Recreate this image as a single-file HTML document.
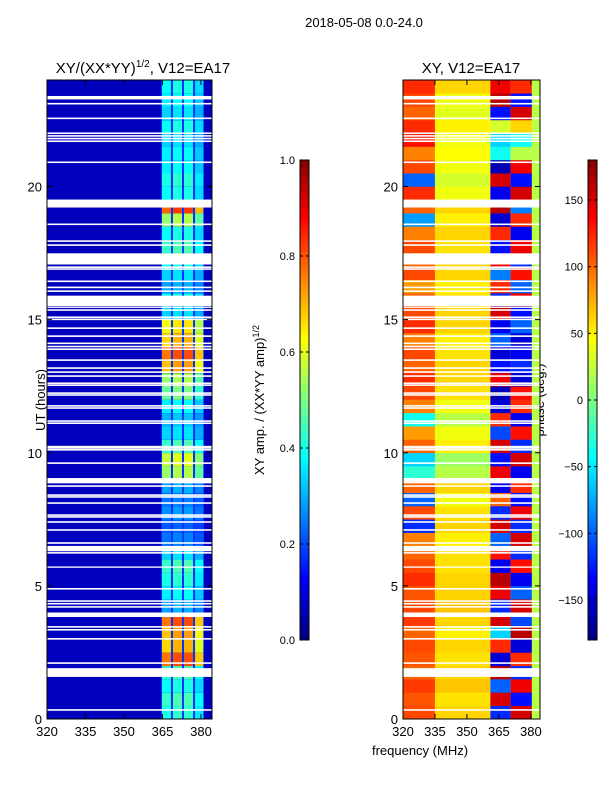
<!DOCTYPE html>
<html><head><meta charset="utf-8"><style>
html,body{margin:0;padding:0;background:#fff;}
svg text{font-family:"Liberation Sans",sans-serif;fill:#000;}
</style></head><body>
<svg id="fig" width="600" height="800" viewBox="0 0 600 800" xmlns="http://www.w3.org/2000/svg">
<text x="364" y="27" font-size="13" text-anchor="middle">2018-05-08 0.0-24.0</text>
<text x="143" y="73" font-size="15" text-anchor="middle">XY/(XX*YY)<tspan font-size="10" dy="-6">1/2</tspan><tspan dy="6">, V12=EA17</tspan></text>
<text x="471" y="73" font-size="15" text-anchor="middle">XY, V12=EA17</text>
<text transform="translate(45,400) rotate(-90)" font-size="13" text-anchor="middle">UT (hours)</text>
<text x="420" y="755" font-size="13" text-anchor="middle">frequency (MHz)</text>
<text transform="translate(264,400) rotate(-90)" font-size="13" text-anchor="middle">XY amp. / (XX*YY amp)<tspan font-size="9" dy="-5">1/2</tspan></text>
<text transform="translate(544,400) rotate(-90)" font-size="13" text-anchor="middle">phase (deg.)</text>
<g id="amp"></g>
<g id="phase"></g>
<g id="cbars"></g>
<g id="axes"></g>
</svg>
<script>
// ---- data ----
const rowHours = 0.5;
const ampBand = [.42,.45,.4,.45, .8,.7,.72,.8, .3,.38, .42,.45,.35, .25,.22,.28,.25,.3, .55,.6,.45, .35,.32,.38, .5,.55, .72,.8,.7,.65, .35,.4,.3,.35, .4,.45,.4,.55, .82, .4,.42,.38, .38,.35,.4,.35,.38,.4];
const ampBg = 0.06;
const subBandLo = [364.8,369.1,373.4,377.7];
const subBandHi = [368.3,372.6,376.9,380.9];
const subBandMul = [0.95,1,1,0.85];
const phaseL = [110,105,115,100, 105,110,100,115, 110,105, 120,110,100, 90,-120,110,-100,100, -30,-60,100, 80,-40,90, 110,120, 100,110,90,120, 110,100,80,110, 100,110,90,-80, 100, 120,-100,110, 90,130,120,100,110,120];
const phaseM = [60,55,65,60, 55,60,50,60, 65,60, 60,55,55, 50,60,55,40,60, 20,10,50, 40,20,40, 55,60, 60,55,50,60, 60,55,50,60, 60,55,60,50, 60, 40,30,40, 45,40,50,35,40,60];
const phaseA = [-120,150,-100,160, -150,120,-60,150, -120,140, 160,-140,130, -100,150,-120,100,-140, 140,-130,150, -110,120,-150, -160,140, -130,-150,-100,-140, 150,-120,120,-90, 140,-130,120,-150, 160, -140,150,-160, -40,-60,30,-130,160,140];
const phaseB = [150,-130,140,-120, 120,-150,160,-110, 150,-100, -140,130,-120, 150,-120,140,-130,120, -140,150,-120, 130,-140,120, 130,-150, -120,-140,-150,-100, -130,140,-100,130, -120,140,-140,120, -90, 150,-130,140, 20,-40,60,150,-130,120];
const phaseEdge = 20;
const gapStart = [0.31,1.58,2.07,2.98,3.32,3.43,3.83,4.18,4.3,4.4,4.86,5.68,6.21,6.3,6.58,7.07,7.37,7.56,7.63,8.08,8.31,8.38,8.72,8.85,9.58,10.08,10.15,10.2,11.08,11.16,11.65,11.73,12.14,12.21,12.51,12.58,12.85,13.0,13.15,13.45,13.86,13.96,14.08,14.35,14.65,14.98,15.06,15.33,15.44,15.5,16.04,16.18,16.41,16.87,16.94,17.07,17.77,17.92,18.55,19.21,20.88,21.67,21.77,21.87,21.97,22.53,23.08,23.27];
const gapEnd   = [0.37,1.91,2.13,3.04,3.38,3.49,4.0,4.24,4.36,4.46,4.92,5.73,6.27,6.5,6.64,7.13,7.43,7.62,7.69,8.14,8.37,8.44,8.78,9.05,9.64,10.14,10.21,10.26,11.14,11.22,11.71,11.79,12.2,12.27,12.57,12.64,12.91,13.06,13.21,13.51,13.92,14.02,14.14,14.41,14.71,15.04,15.12,15.39,15.48,15.9,16.1,16.24,16.47,16.93,17.0,17.49,17.83,17.98,18.61,19.51,20.94,21.73,21.83,21.93,22.03,22.59,23.14,23.4];
const ampTicks = [0,0.2,0.4,0.6,0.8,1.0];
const phaseTicks = [-150,-100,-50,0,50,100,150];
const yTicks = [0,5,10,15,20];
const xTicks = [320,335,350,365,380];

// ---- scales ----
const NS='http://www.w3.org/2000/svg';
const Y0=719, YPX=(719-80)/24;
function yS(h){return Y0-h*YPX;}
const ampX=(f)=>47+(f-320)*(165/64.3);
const phX=(f)=>403+(f-320)*(137/64.3);
const FMAX=384.3;
function jet(v){v=Math.max(0,Math.min(1,v));const c=x=>Math.round(255*Math.max(0,Math.min(1,1.5-Math.abs(4*v-x))));return `rgb(${c(3)},${c(2)},${c(1)})`;}
function pn(p){return (p+180)/360;}
function rect(g,x,y,w,h,fill){const r=document.createElementNS(NS,'rect');r.setAttribute('x',x);r.setAttribute('y',y);r.setAttribute('width',w);r.setAttribute('height',h);r.setAttribute('fill',fill);


g.appendChild(r);return r;}
function line(g,x1,y1,x2,y2,w){const l=document.createElementNS(NS,'line');l.setAttribute('x1',x1);l.setAttribute('y1',y1);l.setAttribute('x2',x2);l.setAttribute('y2',y2);l.setAttribute('stroke','#000');l.setAttribute('stroke-width',w||1);


g.appendChild(l);}
function text(g,x,y,s,anchor,size){const t=document.createElementNS(NS,'text');t.setAttribute('x',x);t.setAttribute('y',y);t.setAttribute('font-size',size||'13');t.setAttribute('text-anchor',anchor||'middle');t.textContent=s;


g.appendChild(t);}

const gA=document.getElementById('amp'), gP=document.getElementById('phase');
ampBand.forEach((a,i)=>{
  const y=yS((i+1)*rowHours), h=rowHours*YPX+0.3;
  rect(gA,ampX(320),y,ampX(FMAX)-ampX(320),h,jet(ampBg));
  rect(gA,ampX(364.5),y,ampX(381.2)-ampX(364.5),h,jet(0.18));
  subBandLo.forEach((lo,k)=>{rect(gA,ampX(lo),y,ampX(subBandHi[k])-ampX(lo),h,jet(a*subBandMul[k]));});
  // phase
  rect(gP,phX(320),y,phX(335)-phX(320),h,jet(pn(phaseL[i])));
  rect(gP,phX(335),y,phX(361)-phX(335),h,jet(pn(phaseM[i])));
  rect(gP,phX(361),y,phX(370.5)-phX(361),h,jet(pn(phaseA[i])));
  rect(gP,phX(370.5),y,phX(380.5)-phX(370.5),h,jet(pn(phaseB[i])));
  rect(gP,phX(380.5),y,phX(FMAX)-phX(380.5),h,jet(pn(phaseEdge)));
});
gapStart.forEach((s,i)=>{
  const y=yS(gapEnd[i]), h=(gapEnd[i]-s)*YPX;
  rect(gA,ampX(320),y,ampX(FMAX)-ampX(320),h,'#fff');
  rect(gP,phX(320),y,phX(FMAX)-phX(320),h,'#fff');
});

// colorbars
const gC=document.getElementById('cbars');
for(let k=0;k<120;k++){const v=k/120;const y=640-(k+1)*4;
  rect(gC,300,y,9,4.3,jet(v)); rect(gC,588,y,9,4.3,jet(v));}
const gX=document.getElementById('axes');
function frame(x,y,w,h){const r=document.createElementNS(NS,'rect');r.setAttribute('x',x);r.setAttribute('y',y);r.setAttribute('width',w);r.setAttribute('height',h);r.setAttribute('fill','none');r.setAttribute('stroke','#000');


gX.appendChild(r);}
frame(47,80,165,639);frame(403,80,137,639);frame(300,160,9,480);frame(588,160,9,480);
ampTicks.forEach(t=>{const y=640-t*480;line(gX,300,y,303,y);line(gX,306,y,309,y);text(gX,295,y+4,t.toFixed(1),'end','11');});
phaseTicks.forEach(t=>{const y=640-pn(t)*480;line(gX,588,y,591,y);line(gX,594,y,597,y);text(gX,583,y+4,t<0?'\u2212'+(-t):String(t),'end','11');});
yTicks.forEach(t=>{const y=yS(t);
  line(gX,47,y,52,y);line(gX,207,y,212,y);line(gX,403,y,408,y);line(gX,535,y,540,y);
  text(gX,42,y+5,String(t),'end');text(gX,398,y+5,String(t),'end');});
xTicks.forEach(t=>{const a=ampX(t),p=phX(t);
  line(gX,a,719,a,714);line(gX,a,80,a,85);line(gX,p,719,p,714);line(gX,p,80,p,85);
  text(gX,a,736,String(t));text(gX,p,736,String(t));});
</script>
</body></html>
